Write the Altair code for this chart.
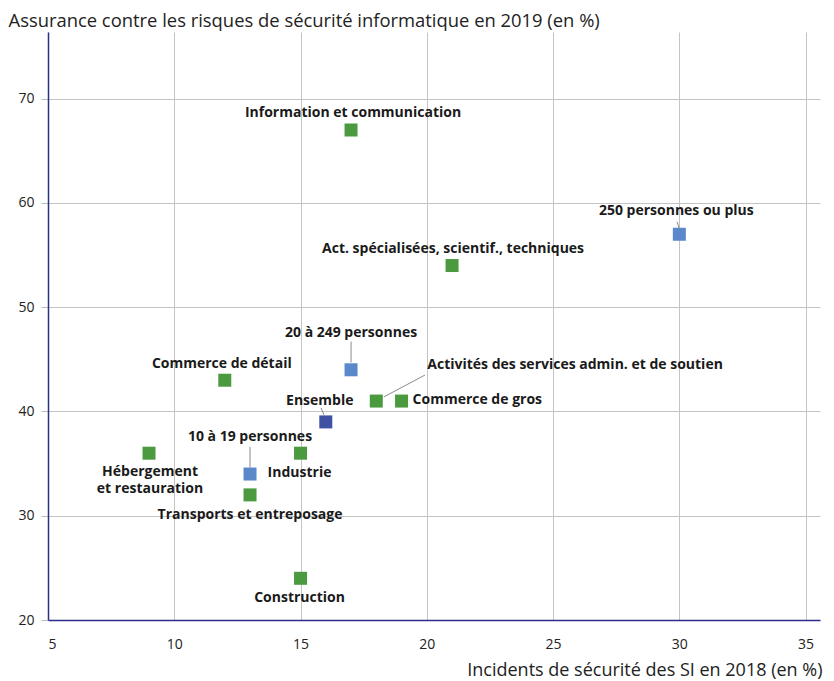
import altair as alt
import pandas as pd

# --- data ---
labels = [
    "Information et communication", "250 personnes ou plus",
    "Act. spécialisées, scientif., techniques", "20 à 249 personnes",
    "Commerce de détail", "Activités des services admin. et de soutien",
    "Commerce de gros", "Ensemble", "Hébergement\net restauration",
    "Industrie", "10 à 19 personnes", "Transports et entreposage", "Construction",
]
incidents_2018 = [17, 30, 21, 17, 12, 18, 19, 16, 9, 15, 13, 13, 15]
assurance_2019 = [67, 57, 54, 44, 43, 41, 41, 39, 36, 36, 34, 32, 24]
groups = ["secteur", "taille", "secteur", "taille", "secteur", "secteur",
          "secteur", "ensemble", "secteur", "secteur", "taille", "secteur", "secteur"]

# --- label placement (pixels relative to the point) ---
label_dx = [2, -3, 1, 0, -3, 51, 11, -6, 1, -1, 0, 0, -1]
label_dy = [-17, -23, -17, -37, -16, -36, -1, -21, 19, 20, -37, 20, 20]
label_anchor = ["center", "center", "center", "center", "center", "left",
                "left", "center", "center", "center", "center", "center", "center"]

# --- leader lines (data coordinates, start / end) ---
lead_x = [17.0, 18.3, 15.93, 13.0, 29.99]
lead_y = [44.7, 41.4, 39.67, 34.6, 57.6]
lead_x2 = [17.0, 19.93, 15.81, 13.0, 29.91]
lead_y2 = [46.7, 43.5, 40.35, 36.6, 58.2]

df = pd.DataFrame({
    "label": labels, "x": incidents_2018, "y": assurance_2019, "group": groups,
})
leads = pd.DataFrame({"x": lead_x, "y": lead_y, "x2": lead_x2, "y2": lead_y2})

FONT = "Open Sans"
NAVY = "#2b2f8a"

xscale = alt.Scale(domain=[5, 35.57], nice=False, zero=False)
yscale = alt.Scale(domain=[20, 76.4], nice=False, zero=False)

xaxis = alt.Axis(
    values=[5, 10, 15, 20, 25, 30, 35], title="Incidents de sécurité des SI en 2018 (en %)",
    grid=True, gridColor="#c4c4c4", domainColor=NAVY, domainWidth=1.5, ticks=False,
    labelPadding=17, labelFont=FONT, labelFontSize=14, labelColor="#222",
    titleFont=FONT, titleFontSize=18, titleFontWeight="normal", titleColor="#222",
    titleAnchor="end", titleAlign="right", titleX=774, titleY=50, titleBaseline="middle",
)
yaxis = alt.Axis(
    values=[20, 30, 40, 50, 60, 70],
    title="Assurance contre les risques de sécurité informatique en 2019 (en %)",
    grid=True, gridColor="#c4c4c4", domainColor=NAVY, domainWidth=1.5,
    ticks=True, tickColor="#bbbbbb", tickSize=7, labelPadding=7,
    labelFont=FONT, labelFontSize=14, labelColor="#222",
    titleFont=FONT, titleFontSize=18.4, titleFontWeight="normal", titleColor="#222",
    titleAngle=0, titleAlign="left", titleBaseline="middle", titleX=-40, titleY=-12,
)

base = alt.Chart(df)

points = base.mark_square(size=169, opacity=1).encode(
    x=alt.X("x:Q", scale=xscale, axis=xaxis),
    y=alt.Y("y:Q", scale=yscale, axis=yaxis),
    color=alt.Color("group:N", scale=alt.Scale(
        domain=["secteur", "taille", "ensemble"],
        range=["#4b9a40", "#5b88ca", "#3f51a3"]), legend=None),
)

rules = alt.Chart(leads).mark_rule(color="#8a8a8a", strokeWidth=1).encode(
    x="x:Q", y="y:Q", x2="x2:Q", y2="y2:Q",
)

text_layers = []
for i, lab in enumerate(labels):
    text_layers.append(
        base.transform_filter(alt.datum.label == lab).mark_text(
            align=label_anchor[i], baseline="middle", dx=label_dx[i], dy=label_dy[i],
            font=FONT, fontSize=14, fontWeight="bold", color="#1a1a1a",
            lineBreak="\n", lineHeight=17,
        ).encode(x="x:Q", y="y:Q", text="label:N")
    )

chart = alt.layer(rules, points, *text_layers).properties(
    width=772, height=588,
    autosize=alt.AutoSizeParams(type="none"),
    padding={"left": 40, "top": 24, "right": 6, "bottom": 61},
).configure_view(stroke=None)

chart.save("out.html", embed_options={"renderer": "svg", "actions": False})
